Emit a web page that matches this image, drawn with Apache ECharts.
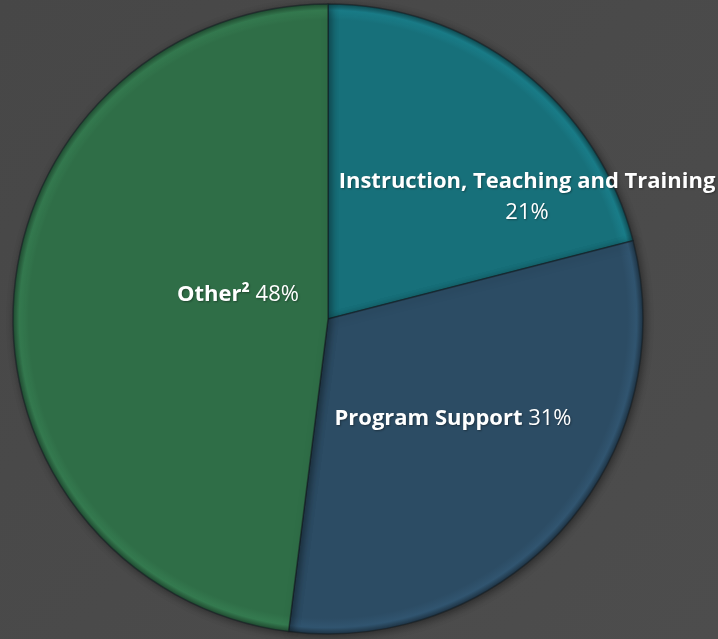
<!DOCTYPE html>
<html>
<head>
<meta charset="utf-8">
<script src="https://cdn.jsdelivr.net/npm/echarts@6/dist/echarts.min.js"></script>
<style>
  html, body { margin: 0; padding: 0; background: #4a4a4a; }
  #chart { width: 718px; height: 639px; }
</style>
</head>
<body>
<div id="chart"></div>
<script>
const categories = ['Instruction, Teaching and Training', 'Program Support', 'Other²']
const shares = [21, 31, 48]
const sliceColors = ['#17707a', '#2c4c64', '#2f6e47']

// where each label sits inside its slice (px)
const labelSpots = [[527, 197], [453, 419], [238, 295]]
const pieCenter = [328, 319]
const pieRadius = 315

const shade = (hex, f) => {
  const n = parseInt(hex.slice(1), 16)
  const c = [(n >> 16) & 255, (n >> 8) & 255, n & 255].map(v => Math.max(0, Math.min(255, Math.round(v * f))))
  return 'rgb(' + c.join(',') + ')'
}

const chart = echarts.init(document.getElementById('chart'))

chart.setOption({
  backgroundColor: {
    type: 'linear', x: 0, y: 0, x2: 1, y2: 1,
    colorStops: [{ offset: 0, color: '#474747' }, { offset: 1, color: '#4d4d4d' }]
  },
  series: [
    {
      type: 'pie',
      center: pieCenter,
      radius: [0, pieRadius],
      startAngle: 90,
      clockwise: true,
      animation: false,
      itemStyle: {
        borderColor: 'rgba(20,30,35,0.55)',
        borderWidth: 1.5,
        shadowColor: 'rgba(0,0,0,0.45)',
        shadowBlur: 8,
        shadowOffsetX: 2,
        shadowOffsetY: 2
      },
      label: {
        show: true,
        position: 'inside',
        color: '#ffffff',
        fontFamily: 'Open Sans',
        fontSize: 22,
        lineHeight: 31,
        textShadowColor: 'rgba(0,0,0,0.35)',
        textShadowBlur: 2,
        textShadowOffsetX: 1,
        textShadowOffsetY: 1,
        formatter: p => p.dataIndex === 0
          ? '{b|' + p.name + '}\n{v|' + p.value + '%}'
          : '{b|' + p.name + '} {v|' + p.value + '%}',
        rich: {
          b: { fontWeight: 'bold', fontSize: 22, fontFamily: 'Open Sans', color: '#fff', lineHeight: 31 },
          v: { fontWeight: 'normal', fontSize: 22, fontFamily: 'Open Sans', color: '#fff', lineHeight: 31 }
        }
      },
      labelLine: { show: false },
      labelLayout: p => ({
        x: labelSpots[p.dataIndex][0],
        y: labelSpots[p.dataIndex][1],
        align: 'center',
        verticalAlign: 'middle'
      }),
      data: categories.map((name, i) => ({
        name,
        value: shares[i],
        itemStyle: {
          color: {
            type: 'radial', global: true,
            x: pieCenter[0], y: pieCenter[1], r: pieRadius,
            colorStops: [
              { offset: 0, color: sliceColors[i] },
              { offset: 0.95, color: sliceColors[i] },
              { offset: 0.98, color: shade(sliceColors[i], 1.12) },
              { offset: 1, color: shade(sliceColors[i], 0.7) }
            ]
          }
        }
      }))
    }
  ]
})
</script>
</body>
</html>
